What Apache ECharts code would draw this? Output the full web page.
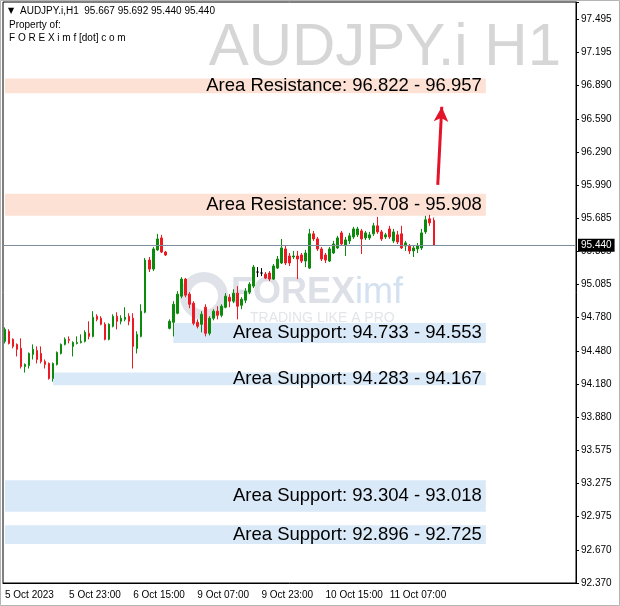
<!DOCTYPE html>
<html><head><meta charset="utf-8">
<script src="https://cdn.jsdelivr.net/npm/echarts@6/dist/echarts.min.js"></script>
<style>html,body{margin:0;padding:0;background:#fff;}#c{width:620px;height:606px;}</style>
</head><body><div id="c"></div>
<script>
// ---- data (AUDJPY.i H1, 5 Oct 2023 07:00 onward) ----
const opens = [94.567,94.658,94.585,94.539,94.503,94.338,94.347,94.448,94.484,94.457,
 94.384,94.366,94.229,94.357,94.457,94.539,94.585,94.521,94.548,94.557,
 94.567,94.640,94.612,94.795,94.777,94.722,94.585,94.704,94.795,94.749,
 94.767,94.795,94.777,94.503,94.612,94.831,95.306,95.224,95.398,95.507,
 95.379,94.685,94.740,94.822,94.978,95.133,94.996,94.914,94.740,94.722,
 94.877,94.640,94.777,94.841,94.804,94.877,94.968,94.932,95.005,94.895,
 94.941,95.014,95.069,95.197,95.188,95.178,95.188,95.133,95.233,95.279,
 95.407,95.343,95.334,95.343,95.352,95.297,95.233,95.544,95.498,95.407,
 95.352,95.297,95.370,95.416,95.553,95.443,95.480,95.516,95.535,95.571,
 95.507,95.507,95.544,95.617,95.562,95.516,95.589,95.480,95.535,95.544,
 95.434,95.434,95.389,95.407,95.416,95.562,95.681,95.667];
const highs = [94.694,94.676,94.594,94.548,94.594,94.366,94.466,94.539,94.521,94.521,
 94.402,94.375,94.375,94.475,94.548,94.603,94.612,94.567,94.612,94.630,
 94.667,94.749,94.841,94.813,94.795,94.740,94.731,94.813,94.831,94.804,
 94.877,94.822,94.822,94.658,94.904,95.325,95.334,95.425,95.544,95.535,
 95.389,94.767,94.932,95.023,95.151,95.142,95.014,94.932,94.767,94.841,
 94.904,94.795,94.859,94.886,94.904,95.005,94.996,95.041,95.069,94.968,
 95.051,95.105,95.261,95.242,95.233,95.197,95.206,95.270,95.343,95.498,
 95.434,95.370,95.389,95.389,95.370,95.398,95.589,95.571,95.516,95.425,
 95.370,95.425,95.480,95.526,95.571,95.516,95.553,95.608,95.608,95.589,
 95.571,95.562,95.644,95.699,95.580,95.553,95.617,95.589,95.571,95.617,
 95.480,95.452,95.443,95.462,95.589,95.708,95.717,95.692];
const lows = [94.548,94.539,94.503,94.430,94.320,94.283,94.320,94.402,94.366,94.366,
 94.320,94.219,94.201,94.347,94.448,94.530,94.548,94.430,94.539,94.548,
 94.557,94.585,94.603,94.749,94.713,94.576,94.576,94.694,94.676,94.722,
 94.749,94.713,94.320,94.457,94.603,94.822,95.197,95.206,95.389,95.370,
 95.343,94.676,94.612,94.813,94.959,94.968,94.868,94.713,94.685,94.649,
 94.612,94.621,94.758,94.767,94.786,94.868,94.877,94.914,94.767,94.859,
 94.914,94.996,95.051,95.151,95.160,95.133,95.115,95.124,95.224,95.270,
 95.261,95.252,95.315,95.133,95.279,95.242,95.224,95.480,95.389,95.297,
 95.279,95.288,95.361,95.407,95.434,95.343,95.452,95.498,95.516,95.361,
 95.489,95.489,95.526,95.544,95.480,95.498,95.498,95.462,95.452,95.407,
 95.389,95.361,95.334,95.370,95.398,95.544,95.617,95.440];
const closes = [94.676,94.548,94.521,94.494,94.338,94.357,94.457,94.494,94.402,94.384,
 94.357,94.229,94.366,94.466,94.539,94.585,94.576,94.557,94.557,94.567,
 94.649,94.612,94.786,94.767,94.722,94.585,94.722,94.795,94.749,94.777,
 94.786,94.749,94.521,94.630,94.841,95.306,95.224,95.407,95.498,95.379,
 95.352,94.749,94.904,94.996,95.133,94.987,94.904,94.731,94.704,94.813,
 94.640,94.777,94.841,94.804,94.886,94.978,94.932,95.005,94.886,94.950,
 95.023,95.087,95.242,95.197,95.188,95.142,95.133,95.252,95.315,95.416,
 95.279,95.279,95.343,95.315,95.297,95.370,95.544,95.498,95.407,95.315,
 95.306,95.407,95.452,95.507,95.452,95.489,95.526,95.589,95.589,95.498,
 95.553,95.535,95.617,95.562,95.498,95.535,95.516,95.562,95.471,95.416,
 95.462,95.389,95.416,95.434,95.553,95.672,95.644,95.440];

const xTickIdx = [0, 16, 32, 48, 64, 80, 96];
const xTickLabels = ['5 Oct 2023','5 Oct 23:00','6 Oct 15:00','9 Oct 07:00','9 Oct 23:00','10 Oct 15:00','11 Oct 07:00'];
const yTickLabels = ['92.370','92.670','92.975','93.275','93.575','93.880','94.180','94.480','94.780',
 '95.085','95.385','95.685','95.990','96.290','96.590','96.890','97.195','97.495'];

const zoneType  = ['Resistance','Resistance','Support','Support','Support','Support'];
const zoneFrom  = [96.822, 95.708, 94.733, 94.283, 93.304, 92.896];
const zoneTo    = [96.957, 95.908, 94.553, 94.167, 93.018, 92.725];
const zoneStart = [0, 0, 42, 12, 0, 0];
const zoneEnd = 120;

const arrowFrom = [108, 95.99];
const arrowTo = [109, 96.70];

// ---- chart ----
const FONT = "'Liberation Sans', Arial, sans-serif";
const G = '#0c8a0c', R = '#ec1a22';
const N = 143;
const cats = Array.from({length: N}, (_, i) => String(i));
const candles = opens.map((o, i) => [o, closes[i], lows[i], highs[i]]);
const last = opens.length - 1;
const yMin = Number(yTickLabels[0]);
const yStep = (Number(yTickLabels[yTickLabels.length - 1]) - yMin) / (yTickLabels.length - 1);
const yMax = 97.652;

const zoneData = zoneType.map((t, k) => {
  const hi = Math.max(zoneFrom[k], zoneTo[k]), lo = Math.min(zoneFrom[k], zoneTo[k]);
  const col = t === 'Resistance' ? '#fde1d5' : '#dae9f8';
  return [
    { name: 'Area ' + t + ': ' + zoneFrom[k].toFixed(3) + ' - ' + zoneTo[k].toFixed(3),
      xAxis: zoneStart[k], yAxis: hi, itemStyle: { color: col } },
    { xAxis: zoneEnd, yAxis: lo }
  ];
});

const chart = echarts.init(document.getElementById('c'));
chart.setOption({
  animation: false,
  backgroundColor: '#fff',
  grid: { left: 3, right: 44, top: 2, bottom: 23, show: true, borderColor: '#000', borderWidth: 1, backgroundColor: 'transparent' },
  xAxis: {
    type: 'category', data: cats, boundaryGap: true,
    axisLine: { lineStyle: { color: '#000', width: 1 } },
    axisTick: { alignWithLabel: true, length: 4, interval: (i) => xTickIdx.includes(i), lineStyle: { color: '#000' } },
    axisLabel: {
      interval: (i) => xTickIdx.includes(i), align: 'left', margin: 7,
      fontSize: 10, color: '#000', fontFamily: FONT,
      formatter: (v) => { const k = xTickIdx.indexOf(Number(v)); return k >= 0 ? xTickLabels[k] : ''; }
    },
    splitLine: { show: false }
  },
  yAxis: {
    type: 'value', position: 'right', min: yMin, max: yMax, interval: yStep, scale: true,
    axisLine: { show: true, lineStyle: { color: '#000', width: 1 } },
    axisTick: { show: true, length: 3, lineStyle: { color: '#000' } },
    axisLabel: {
      margin: 5, fontSize: 10, color: '#000', fontFamily: FONT,
      formatter: (v) => {
        const k = Math.round((v - yMin) / yStep);
        if (k < 0 || k >= yTickLabels.length) return '';
        if (Math.abs(v - (yMin + k * yStep)) > yStep * 0.05) return '';
        return yTickLabels[k];
      }
    },
    splitLine: { show: false }
  },
  graphic: [
    { type: 'group', silent: true, z: 0, children: [
      { type: 'circle', shape: { cx: 204, cy: 296, r: 19 }, style: { fill: 'none', stroke: '#dfe2e8', lineWidth: 10 } },
      { type: 'text', x: 231, y: 275, style: { text: '{a|FOREX}{b|imf}', rich: {
          a: { font: `bold 36px ${FONT}`, fill: '#dde0e7' },
          b: { font: `36px ${FONT}`, fill: '#d3e1f0' } } } },
      { type: 'text', x: 250, y: 311, style: { text: 'TRADING LIKE A PRO', font: `14px ${FONT}`, fill: '#e3e5ea' } }
    ]},
    { type: 'text', right: 59, top: 18, silent: true, style: { text: 'AUDJPY.i H1', font: `60px ${FONT}`, fill: '#d6d6d6' } },
    { type: 'text', x: 8, y: 7, silent: true, style: { text: '\u25BC', font: `8px 'DejaVu Sans'`, fill: '#000' } },
    { type: 'text', x: 20, y: 6, silent: true, style: {
        text: 'AUDJPY.i,H1  ' + [opens[last], highs[last], lows[last], closes[last]].map(v => v.toFixed(3)).join(' '),
        font: `10px ${FONT}`, fill: '#000' } },
    { type: 'text', x: 9, y: 20, silent: true, style: { text: 'Property of:', font: `10px ${FONT}`, fill: '#000' } },
    { type: 'text', x: 9, y: 33, silent: true, style: { text: 'F O R E X i m f [dot] c o m', font: `10px ${FONT}`, fill: '#000' } },
    { type: 'rect', silent: true, z: 100, shape: { x: 0.5, y: 0.5, width: 619, height: 605 }, style: { fill: 'none', stroke: '#b4b4b4', lineWidth: 1 } }
  ],
  series: [{
    type: 'candlestick',
    data: candles,
    barWidth: 2,
    itemStyle: { color: G, color0: R, borderColor: G, borderColor0: R, borderColorDoji: '#000', borderWidth: 1 },
    markArea: {
      silent: true,
      label: { show: true, position: 'insideRight', distance: 4, color: '#000', fontSize: 18.5, fontFamily: FONT },
      data: zoneData
    },
    markLine: {
      silent: true, symbol: ['none', 'none'],
      data: [
        { yAxis: closes[last], lineStyle: { color: '#7d8d9c', width: 1, type: 'solid' },
          label: { show: true, position: 'end', distance: 2, formatter: closes[last].toFixed(3),
                   backgroundColor: '#000', color: '#fff', padding: [2, 3, 1, 3], fontSize: 10, fontFamily: FONT } },
        [
          { coord: arrowFrom, symbol: 'none', lineStyle: { color: '#e3132a', width: 3, type: 'solid' }, label: { show: false } },
          { coord: arrowTo, symbol: 'arrow', symbolSize: [11, 15] }
        ]
      ]
    }
  }]
});
</script>
</body></html>
